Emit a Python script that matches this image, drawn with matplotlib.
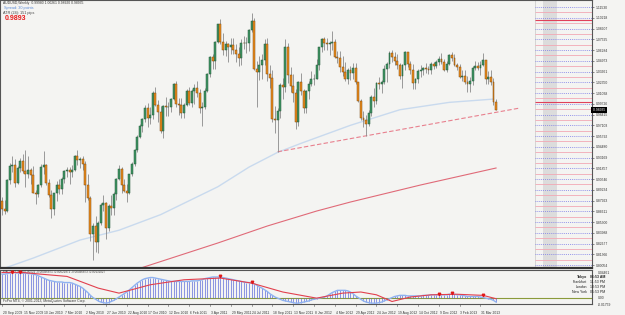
import matplotlib
matplotlib.use('Agg')
import matplotlib.pyplot as plt
import matplotlib.transforms as mtransforms
import numpy as np

# ---------------- data (weekly AUDUSD, week index 0 = 20 Sep 2009) ----------------
first_open = 0.8790
closes = [
    .8690, .8660, .9040, .9210, .9230, .9010, .9190, .9270, .9150, .9110,
    .9160, .9100, .8890, .8870, .8980, .9200, .9230, .9010, .8860, .8690,
    .8880, .8980, .8930, .9050, .9150, .9170, .9140, .9170, .9330, .9290,
    .9300, .9240, .8980, .8820, .8380, .8480, .8290, .8520, .8740, .8760,
    .8460, .8720, .8700, .8870, .9050, .9180, .8980, .8910, .8890, .9110,
    .9240, .9410, .9570, .9700, .9790, .9920, .9800, .9830, 1.0110, .9960,
    .9870, .9640, .9940, .9930, .9930, 1.0030, 1.0220, .9970, .9960, .9860,
    .9960, 1.0130, .9980, 1.0130, 1.0160, 1.0110, .9920, .9930, 1.0130, 1.0340,
    1.0540, 1.0500, 1.0730, 1.0950, 1.0730, 1.0630, 1.0700, 1.0660, 1.0690, 1.0630,
    1.0580, 1.0530, 1.0720, 1.0710, 1.0720, 1.0870, 1.0980, 1.0400, 1.0360, 1.0440,
    1.0510, 1.0700, 1.0330, 1.0290, .9790, .9770, .9890, 1.0200, 1.0180, 1.0660,
    1.0320, 1.0190, 1.0100, .9750, 1.0240, 1.0130, .9920, 1.0130, 1.0220, 1.0270,
    1.0280, 1.0450, 1.0670, 1.0760, 1.0720, 1.0700, 1.0710, 1.0730, 1.0540, 1.0530,
    1.0420, 1.0360, 1.0270, 1.0390, 1.0350, 1.0410, 1.0240, 1.0010, .9800, .9770,
    .9720, .9860, 1.0060, 1.0010, 1.0230, 1.0210, 1.0240, 1.0400, 1.0460, 1.0590,
    1.0540, 1.0500, 1.0450, 1.0310, 1.0450, 1.0600, 1.0460, 1.0380, 1.0230, 1.0280,
    1.0370, 1.0380, 1.0410, 1.0400, 1.0380, 1.0460, 1.0430, 1.0480, 1.0520, 1.0480,
    1.0390, 1.0460, 1.0570, 1.0530, 1.0440, 1.0420, 1.0300, 1.0310, 1.0240, 1.0210,
    1.0250, 1.0410, 1.0430, 1.0410, 1.0450, 1.0510, 1.0270, 1.0300, 1.0240, .9998,
    .9894,
]
highs = [
    .8830, .8800, .9050, .9250, .9330, .9300, .9210, .9310, .9360, .9406,
    .9330, .9190, .9210, .8920, .9000, .9240, .9400, .9240, .9060, .8920,
    .8890, .9030, .9050, .9080, .9160, .9200, .9200, .9220, .9350, .9405,
    .9320, .9330, .9270, .9120, .8850, .8520, .8600, .8540, .8760, .8860,
    .8780, .8750, .8860, .8900, .9070, .9220, .9200, .9060, .9000, .9120,
    .9260, .9420, .9590, .9720, .9800, .9960, .9980, .9930, 1.0130, 1.0180,
    1.0020, .9950, .9960, 1.0050, .9990, 1.0040, 1.0230, 1.0250, 1.0040, 1.0040,
    .9980, 1.0150, 1.0180, 1.0150, 1.0210, 1.0250, 1.0150, 1.0000, 1.0170, 1.0350,
    1.0550, 1.0580, 1.0740, 1.0950, 1.1013, 1.0840, 1.0740, 1.0710, 1.0770, 1.0780,
    1.0700, 1.0660, 1.0760, 1.0800, 1.0790, 1.0880, 1.1080, 1.1020, 1.0500, 1.0560,
    1.0580, 1.0760, 1.0770, 1.0440, 1.0390, .9950, .9920, 1.0230, 1.0290, 1.0760,
    1.0720, 1.0420, 1.0330, 1.0150, 1.0250, 1.0350, 1.0150, 1.0140, 1.0250, 1.0370,
    1.0340, 1.0520, 1.0670, 1.0780, 1.0790, 1.0770, 1.0740, 1.0856, 1.0760, 1.0620,
    1.0620, 1.0560, 1.0480, 1.0410, 1.0430, 1.0470, 1.0470, 1.0240, 1.0030, .9880,
    .9830, .9900, 1.0080, 1.0170, 1.0240, 1.0300, 1.0260, 1.0440, 1.0480, 1.0620,
    1.0625, 1.0600, 1.0580, 1.0470, 1.0460, 1.0620, 1.0600, 1.0500, 1.0460, 1.0290,
    1.0400, 1.0450, 1.0420, 1.0470, 1.0430, 1.0480, 1.0480, 1.0510, 1.0560, 1.0590,
    1.0520, 1.0500, 1.0580, 1.0600, 1.0580, 1.0470, 1.0460, 1.0380, 1.0390, 1.0310,
    1.0300, 1.0430, 1.0490, 1.0480, 1.0500, 1.0597, 1.0510, 1.0370, 1.0390, 1.0290,
    1.0026,
]
lows = [
    .8610, .8630, .8650, .9000, .9140, .8960, .8990, .9140, .9130, .8960,
    .9070, .9000, .8880, .8750, .8830, .8960, .9120, .8980, .8830, .8580,
    .8620, .8790, .8870, .8870, .9010, .9080, .9000, .9080, .9150, .9220,
    .9190, .9160, .8780, .8800, .8300, .8067, .8170, .8150, .8490, .8660,
    .8320, .8420, .8620, .8610, .8800, .9040, .8880, .8900, .8770, .8870,
    .9090, .9210, .9380, .9560, .9630, .9750, .9690, .9720, .9790, .9940,
    .9750, .9620, .9550, .9820, .9820, .9870, 1.0020, .9930, .9830, .9800,
    .9800, .9950, .9960, .9930, .9970, 1.0050, .9860, .9706, .9910, 1.0120,
    1.0300, 1.0400, 1.0400, 1.0710, 1.0700, 1.0570, 1.0550, 1.0480, 1.0580, 1.0580,
    1.0480, 1.0430, 1.0450, 1.0640, 1.0590, 1.0620, 1.0850, 1.0380, .9930, 1.0260,
    1.0280, 1.0450, 1.0250, 1.0160, .9750, .9620, .9387, .9800, 1.0030, 1.0120,
    1.0230, 1.0120, 1.0000, .9660, .9700, 1.0080, .9860, .9860, 1.0030, 1.0190,
    1.0200, 1.0270, 1.0390, 1.0600, 1.0630, 1.0630, 1.0570, 1.0630, 1.0530, 1.0470,
    1.0360, 1.0310, 1.0250, 1.0210, 1.0260, 1.0280, 1.0220, .9990, .9780, .9690,
    .9581, .9700, .9820, .9930, .9970, 1.0150, 1.0110, 1.0220, 1.0240, 1.0410,
    1.0480, 1.0450, 1.0400, 1.0270, 1.0160, 1.0390, 1.0420, 1.0340, 1.0150, 1.0150,
    1.0230, 1.0300, 1.0320, 1.0350, 1.0340, 1.0340, 1.0400, 1.0410, 1.0450, 1.0460,
    1.0370, 1.0360, 1.0440, 1.0490, 1.0430, 1.0380, 1.0290, 1.0250, 1.0220, 1.0115,
    1.0120, 1.0200, 1.0380, 1.0390, 1.0320, 1.0430, 1.0220, 1.0220, 1.0200, .9960,
    .9892,
]

# moving averages (week index, price)
ma_blue_i = [-1, 12, 30, 45, 61, 83, 95, 106, 115, 134, 153, 172, 189]
ma_blue_p = [0.7945, 0.809, 0.831, 0.843, 0.862, 0.896, 0.920, 0.938, 0.949, 0.971, 0.990, 0.999, 1.003]
ma_red_i = [53, 83, 102, 121, 134, 161, 190]
ma_red_p = [0.7965, 0.8274, 0.8481, 0.8664, 0.8774, 0.8982, 0.9189]
trend_i = [106, 199]
trend_p = [0.9387, 0.9920]

# MACD histogram (x 0.001), one per week
macd = [
    42, 42, 43, 44, 45, 45, 44, 44, 44, 44,
    43, 43, 42, 41, 39, 37, 35, 33, 31, 30,
    29, 28, 28, 28, 27, 27, 27, 26, 24, 22,
    20, 17, 13, 9, 4, 0, -3, -6, -8, -9,
    -10, -9, -7, -5, -2, 1, 4, 7, 10, 14,
    18, 22, 26, 29, 32, 34, 35, 36, 36, 35,
    34, 33, 32, 31, 30, 29, 29, 29, 29, 29,
    29, 29, 29, 30, 30, 30, 31, 32, 34, 35,
    36, 37, 37, 37, 37, 36, 35, 34, 33, 32,
    31, 30, 29, 28, 27, 27, 26, 25, 22, 19,
    17, 14, 11, 7, 4, 1, -1, -3, -5, -6,
    -7, -8, -9, -10, -10, -9, -8, -7, -6, -4,
    -3, -2, -1, 0, 1, 3, 6, 9, 11, 13,
    13, 13, 13, 12, 10, 7, 3, 0, -3, -6,
    -8, -9, -10, -10, -10, -9, -8, -6, -4, -2,
    0, 2, 3, 4, 4, 4, 3, 3, 3, 3,
    3, 3, 4, 4, 4, 5, 5, 5, 5, 5,
    5, 5, 6, 6, 6, 5, 5, 4, 3, 2,
    2, 2, 2, 2, 1, 0, -1, -2, -3, -5,
    -8,
]
signal_i = [0, 8, 15, 25, 37, 45, 57, 70, 84, 96, 108, 121, 131, 138, 144, 150, 157, 165, 175, 185, 190]
signal_v = [45, 45, 42, 38, 17, 8, 23, 32, 35, 26, 10, -1, 8, 10, 5, -7, 1, 5, 6, 4, -2]
arrow_i = [4, 7, 84, 96, 168, 173, 185]
arrow_v = [45, 45, 37, 26, 5, 6, 4]

date_labels = ['20 Sep 2009', '15 Nov 2009', '10 Jan 2010', '7 Mar 2010', '2 May 2010',
               '27 Jun 2010', '22 Aug 2010', '17 Oct 2010', '12 Dec 2010', '6 Feb 2011',
               '3 Apr 2011', '29 May 2011', '24 Jul 2011', '18 Sep 2011', '13 Nov 2011',
               '8 Jan 2012', '4 Mar 2012', '29 Apr 2012', '24 Jun 2012', '19 Aug 2012',
               '14 Oct 2012', '9 Dec 2012', '3 Feb 2013', '31 Mar 2013']
label_weeks = [8 * k for k in range(len(date_labels))]

clock_names = ['Tokyo', 'Frankfurt', 'London', 'New York']
clock_times = ['06:53 AM', '11:53 PM', '10:53 PM', '05:53 PM']

# ---------------- figure ----------------
W, H = 625, 315
BG = '#f4f4f2'
plt.rcParams['font.family'] = ['Liberation Sans', 'DejaVu Sans']
fig = plt.figure(figsize=(6.25, 3.15), dpi=100)
fig.patch.set_facecolor(BG)

def fy(py):
    return 1 - py / H

XL = (-0.77, 226.9)
ax = fig.add_axes([0, fy(268), 592 / W, fy(0) - fy(268)])
axi = fig.add_axes([0, fy(304), 592 / W, fy(270) - fy(304)])
for a in (ax, axi):
    a.set_facecolor(BG)
    a.set_xlim(*XL)
    for s in a.spines.values():
        s.set_color('#555555')
        s.set_linewidth(0.8)
ax.spines['bottom'].set_linewidth(1.6)
ax.spines['bottom'].set_color('#333333')
ax.set_ylim(0.7969, 1.1239)

idx = np.arange(len(closes))
opens = [first_open] + closes[:-1]
o = np.array(opens); c = np.array(closes)
hi = np.array(highs); lo = np.array(lows)

# levels block on the right
tick0 = 1.1153
tstep = 0.013115
ticks = [tick0 - k * tstep for k in range(25)]
ax.axvspan(208, 213.5, color='#dadada', alpha=0.9, lw=0, zorder=0)
ax.axvline(205, color='#c8c8c8', lw=0.5, zorder=0)
for t in ticks:
    ax.hlines(t, 205, XL[1], color='#7a7ae8', lw=0.6, linestyles=(0, (1, 1.3)), zorder=1)
    ax.hlines(t - tstep / 2, 205, XL[1], color='#f2a8b4', lw=0.6, zorder=1)
for lv in (1.0995, 0.9994):
    ax.hlines(lv, 205, XL[1], color='#e0405a', lw=0.8, zorder=1)

# moving averages and trend line
ax.plot(ma_blue_i, ma_blue_p, color='#c9daee', lw=1.0, zorder=2)
ax.plot(ma_red_i, ma_red_p, color='#e06a78', lw=0.8, zorder=2)
ax.plot(trend_i, trend_p, color='#e8808e', lw=0.8, dashes=(4, 2), zorder=2)

# candles
ax.vlines(idx, lo, hi, color='#8a8a8a', lw=0.6, zorder=3)
up = c >= o
bottoms = np.minimum(o, c)
heights = np.maximum(np.abs(c - o), 0.0004)
ax.bar(idx[up], heights[up], bottom=bottoms[up], width=0.72,
       color='#3f9563', edgecolor='#24583a', linewidth=0.35, zorder=4)
ax.bar(idx[~up], heights[~up], bottom=bottoms[~up], width=0.72,
       color='#ee8d1c', edgecolor='#7a4a10', linewidth=0.35, zorder=4)

# right price axis
ax.set_xticks([])
ax.yaxis.tick_right()
ax.set_yticks(ticks)
ax.set_yticklabels(['%.5f' % t for t in ticks], fontsize=2.4, color='#333333')
ax.tick_params(axis='y', length=1.5, width=0.4, pad=1.2, colors='#333333')
ax.text(1.0, 0.98935, ' 0.98935 ', transform=mtransforms.blended_transform_factory(ax.transAxes, ax.transData),
        fontsize=2.4, color='white', va='center', ha='left', clip_on=False,
        bbox=dict(boxstyle='square,pad=0.25', fc='black', ec='black', lw=0))

# header texts
fig.text(3 / W, fy(3), 'AUDUSD,Weekly  0.99980 1.00261 0.98920 0.98935', fontsize=2.4, color='#333333', va='center')
fig.text(4 / W, fy(7.5), 'Spread: 30 points', fontsize=2.7, color='#5b8bd6', va='center')
fig.text(3 / W, fy(13), 'ATR (24): 151 pips', fontsize=2.7, color='#444444', va='center')
fig.text(5 / W, fy(19), '0.9893', fontsize=5, color='#e81c1c', fontweight='bold', va='center')

# ---------------- indicator panel ----------------
mv = np.array(macd) / 1000.0
axi.set_ylim(-0.0115, 0.0495)
axi.axhline(0, color='#8a9a3a', lw=0.8, zorder=1)
axi.vlines(idx, 0, mv, color='#4f5fd8', lw=0.45, zorder=2)
axi.plot(idx, mv, color='#8fb2f0', lw=1.0, zorder=3)
axi.plot(signal_i, np.array(signal_v) / 1000.0, color='#e2404e', lw=0.8, zorder=4)
axi.plot(arrow_i, np.array(arrow_v) / 1000.0 + 0.0015, ls='none', marker='v', ms=1.8,
         color='#e01818', zorder=5)
axi.set_xticks([])
axi.set_yticks([])
axi.text(0.005, 0.93, 'MACD(12,26,9) 0.00522 -0.00496871 -0.00521872 -0.00496873 -0.00131027',
         transform=axi.transAxes, fontsize=2.2, color='#444444', va='center')
axi.text(0.005, 0.1, 'FxPro MT4, \u00a9 2001-2013, MetaQuotes Software Corp.',
         transform=axi.transAxes, fontsize=2.4, color='#333333', va='center')
for k, (nm, tm) in enumerate(zip(clock_names, clock_times)):
    yy = fy(277 + 5 * k)
    fig.text(587 / W, yy, nm, fontsize=2.5, ha='right', va='center', color='#222222',
             fontweight='bold' if k == 0 else 'normal')
    fig.text(590 / W, yy, tm, fontsize=2.5, ha='left', va='center', color='#222222',
             fontweight='bold' if k == 0 else 'normal')
# indicator scale labels
trans_i = mtransforms.blended_transform_factory(axi.transAxes, axi.transData)
axi.text(1.01, 0.0446, '0.04461', transform=trans_i, fontsize=2.4, color='#333333', va='center')
axi.text(1.01, 0.0, '0.00', transform=trans_i, fontsize=2.4, color='#333333', va='center')
axi.text(1.01, -0.0125, '-0.01759', transform=trans_i, fontsize=2.4, color='#333333', va='center')

# date labels
trans_d = mtransforms.blended_transform_factory(axi.transData, axi.transAxes)
for wk, lab in zip(label_weeks, date_labels):
    axi.plot([wk, wk], [0, -0.06], transform=trans_d, color='#555555', lw=0.4, clip_on=False)
    axi.text(wk + 0.3, -0.2, lab, transform=trans_d, fontsize=2.4, color='#333333',
             ha='left', va='top', clip_on=False)

fig.savefig('out.png', dpi=100, facecolor=BG)
